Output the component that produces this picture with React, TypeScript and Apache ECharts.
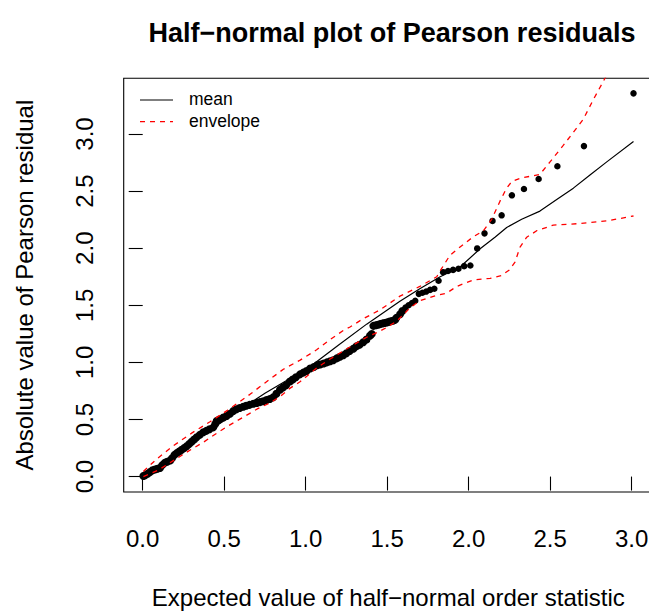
import React, { useEffect, useRef } from "react";
import * as echarts from "echarts";

const FONT = "'Liberation Sans', Arial, Helvetica, sans-serif";

const xTicks = [0, 0.5, 1, 1.5, 2, 2.5, 3];
const yTicks = [0, 0.5, 1, 1.5, 2, 2.5, 3];

const titleText = "Half\u2212normal plot of Pearson residuals";
const xTitle = "Expected value of half\u2212normal order statistic";
const yTitle = "Absolute value of Pearson residual";
const legendLabels = ["mean", "envelope"];

const pointX = [
  0.004, 0.015, 0.03, 0.045, 0.06, 0.075, 0.09, 0.106, 0.12, 0.135, 0.15, 0.168, 0.18, 0.195, 0.209,
  0.224, 0.239, 0.255, 0.27, 0.285, 0.3, 0.315, 0.331, 0.35, 0.372, 0.39, 0.41, 0.433, 0.445, 0.454,
  0.47, 0.495, 0.515, 0.535, 0.556, 0.575, 0.595, 0.617, 0.635, 0.655, 0.679, 0.7, 0.72, 0.74, 0.76,
  0.78, 0.801, 0.82, 0.842, 0.86, 0.88, 0.903, 0.92, 0.94, 0.965, 0.985, 1.005, 1.027, 1.05, 1.07,
  1.088, 1.11, 1.13, 1.15, 1.169, 1.19, 1.21, 1.231, 1.25, 1.27, 1.292, 1.31, 1.33, 1.353, 1.373,
  1.394, 1.405, 1.415, 1.43, 1.443, 1.456, 1.47, 1.483, 1.497, 1.51, 1.522, 1.535, 1.548, 1.556, 1.579,
  1.593, 1.612, 1.631, 1.652, 1.672, 1.694, 1.716, 1.739, 1.763, 1.789, 1.815, 1.843, 1.873, 1.904, 1.937,
  1.972, 2.01, 2.052, 2.097, 2.146, 2.202, 2.265, 2.339, 2.429, 2.544, 2.707, 3.011,
];
const pointY = [
  0.005, 0.012, 0.025, 0.04, 0.055, 0.062, 0.068, 0.075, 0.1, 0.12, 0.13, 0.14, 0.16, 0.19, 0.205,
  0.22, 0.235, 0.25, 0.265, 0.285, 0.305, 0.325, 0.344, 0.365, 0.388, 0.4, 0.415, 0.431, 0.46, 0.488,
  0.5, 0.517, 0.53, 0.55, 0.574, 0.59, 0.6, 0.611, 0.62, 0.628, 0.637, 0.645, 0.652, 0.66, 0.67,
  0.68, 0.695, 0.725, 0.761, 0.78, 0.8, 0.832, 0.85, 0.87, 0.895, 0.91, 0.925, 0.947, 0.96, 0.975,
  0.982, 0.99, 1.0, 1.01, 1.019, 1.035, 1.05, 1.062, 1.08, 1.1, 1.12, 1.14, 1.155, 1.177, 1.2,
  1.234, 1.249, 1.32, 1.325, 1.33, 1.335, 1.34, 1.345, 1.349, 1.355, 1.36, 1.365, 1.372, 1.39, 1.421,
  1.45, 1.48, 1.5, 1.52, 1.54, 1.6, 1.61, 1.62, 1.635, 1.645, 1.715, 1.79, 1.8, 1.81, 1.82,
  1.843, 1.848, 1.998, 2.13, 2.239, 2.288, 2.463, 2.518, 2.606, 2.718, 2.894, 3.356,
];

const meanX = [0.004, 0.25, 0.5, 0.75, 1.026, 1.2, 1.374, 1.578, 1.7, 1.825, 1.947, 2.07, 2.161, 2.233, 2.325, 2.437, 2.54, 2.642, 2.744, 2.847, 3.011];
const meanY = [0.008, 0.245, 0.49, 0.73, 0.961, 1.15, 1.335, 1.536, 1.645, 1.75, 1.835, 1.995, 2.096, 2.182, 2.253, 2.325, 2.426, 2.526, 2.641, 2.756, 2.934];

const upperX = [0.004, 0.045, 0.1, 0.188, 0.3, 0.413, 0.52, 0.658, 0.75, 0.863, 0.966, 1.067, 1.15, 1.231, 1.272, 1.35, 1.456, 1.578, 1.7, 1.804, 1.824, 1.885, 1.947, 2.028, 2.09, 2.141, 2.192, 2.23, 2.264, 2.315, 2.437, 2.499, 2.58, 2.642, 2.703, 2.764, 2.836, 2.92, 3.011];
const upperY = [0.045, 0.1, 0.17, 0.27, 0.38, 0.48, 0.58, 0.72, 0.82, 0.94, 1.02, 1.11, 1.2, 1.28, 1.31, 1.38, 1.46, 1.58, 1.665, 1.75, 1.8, 1.938, 2.01, 2.1, 2.153, 2.253, 2.412, 2.52, 2.584, 2.612, 2.647, 2.756, 2.9, 3.015, 3.129, 3.3, 3.488, 3.72, 3.98];

const lowerX = [0.004, 0.1, 0.2, 0.3, 0.372, 0.433, 0.52, 0.617, 0.7, 0.781, 0.842, 0.9, 0.965, 1.067, 1.15, 1.231, 1.3, 1.374, 1.45, 1.497, 1.558, 1.6, 1.64, 1.7, 1.783, 1.865, 1.926, 2.028, 2.131, 2.2, 2.25, 2.284, 2.315, 2.356, 2.417, 2.519, 2.683, 2.847, 3.011];
const lowerY = [0.0, 0.06, 0.15, 0.24, 0.3, 0.36, 0.44, 0.52, 0.59, 0.646, 0.7, 0.77, 0.83, 0.95, 1.03, 1.1, 1.16, 1.22, 1.27, 1.306, 1.36, 1.42, 1.478, 1.54, 1.579, 1.607, 1.665, 1.722, 1.736, 1.76, 1.81, 1.878, 2.01, 2.096, 2.153, 2.202, 2.216, 2.239, 2.282];

const zip = (xs: number[], ys: number[]) => xs.map((x, i) => [x, ys[i]]);

export default function App() {
  const ref = useRef<HTMLDivElement>(null);
  useEffect(() => {
    const chart = echarts.init(ref.current!, null, { renderer: "svg" });
    const axisFont = { fontSize: 24, color: "#000", fontFamily: FONT };
    chart.setOption({
      animation: false,
      backgroundColor: "#fff",
      grid: {
        left: 123.7,
        top: 78.3,
        width: 529.2,
        height: 420.7,
        show: true,
        borderColor: "#000",
        borderWidth: 1.1,
        backgroundColor: "transparent",
      },
      xAxis: {
        type: "value",
        min: -0.1166,
        max: 3.13,
        axisLine: { show: false },
        splitLine: { show: false },
        axisTick: { show: true, customValues: xTicks, inside: false, length: 14, lineStyle: { color: "#000", width: 1.1 } },
        axisLabel: { customValues: xTicks, formatter: (v: number) => v.toFixed(1), margin: 34, ...axisFont },
        name: xTitle,
        nameLocation: "middle",
        nameGap: 93,
        nameTextStyle: axisFont,
      },
      yAxis: {
        type: "value",
        min: -0.1352,
        max: 3.488,
        axisLine: { show: false },
        splitLine: { show: false },
        axisTick: { show: true, customValues: yTicks, inside: false, length: 14, lineStyle: { color: "#000", width: 1.1 } },
        axisLabel: { customValues: yTicks, formatter: (v: number) => v.toFixed(1), margin: 27, rotate: 90, ...axisFont },
        name: yTitle,
        nameLocation: "middle",
        nameRotate: 90,
        nameGap: 87,
        nameTextStyle: axisFont,
      },
      graphic: [
        {
          type: "text",
          x: 392,
          y: 33,
          style: { text: titleText, font: `bold 27px ${FONT}`, fill: "#000", align: "center", verticalAlign: "middle" },
        },
        { type: "line", shape: { x1: 140, y1: 100, x2: 173, y2: 100 }, style: { stroke: "#000", lineWidth: 1.2 } },
        { type: "line", shape: { x1: 140, y1: 121.7, x2: 173, y2: 121.7 }, style: { stroke: "#ff0000", lineWidth: 1.2, lineDash: [5, 5] } },
        { type: "text", x: 189, y: 99, style: { text: legendLabels[0], font: `17.5px ${FONT}`, fill: "#000", align: "left", verticalAlign: "middle" } },
        { type: "text", x: 189, y: 121, style: { text: legendLabels[1], font: `17.5px ${FONT}`, fill: "#000", align: "left", verticalAlign: "middle" } },
      ],
      series: [
        {
          name: "residuals",
          type: "scatter",
          data: zip(pointX, pointY),
          symbol: "circle",
          symbolSize: (v: number[]) => (v[0] < 1.6 ? 8 : 6.5),
          itemStyle: { color: "#000", opacity: 1 },
          z: 1,
        },
        {
          name: "mean",
          type: "line",
          data: zip(meanX, meanY),
          showSymbol: false,
          symbol: "none",
          lineStyle: { color: "#000", width: 1.2 },
          z: 2,
        },
        {
          name: "envelope",
          type: "line",
          data: zip(upperX, upperY),
          showSymbol: false,
          symbol: "none",
          lineStyle: { color: "#ff0000", width: 1.3, type: [5, 5] },
          z: 3,
        },
        {
          name: "envelope",
          type: "line",
          data: zip(lowerX, lowerY),
          showSymbol: false,
          symbol: "none",
          lineStyle: { color: "#ff0000", width: 1.3, type: [5, 5] },
          z: 3,
        },
      ],
    });
    return () => chart.dispose();
  }, []);
  return (
    <div style={{ position: "fixed", left: 0, top: 0, width: 649, height: 614, overflow: "hidden", background: "#fff" }}>
      <div ref={ref} style={{ width: 660, height: 614 }} />
    </div>
  );
}
